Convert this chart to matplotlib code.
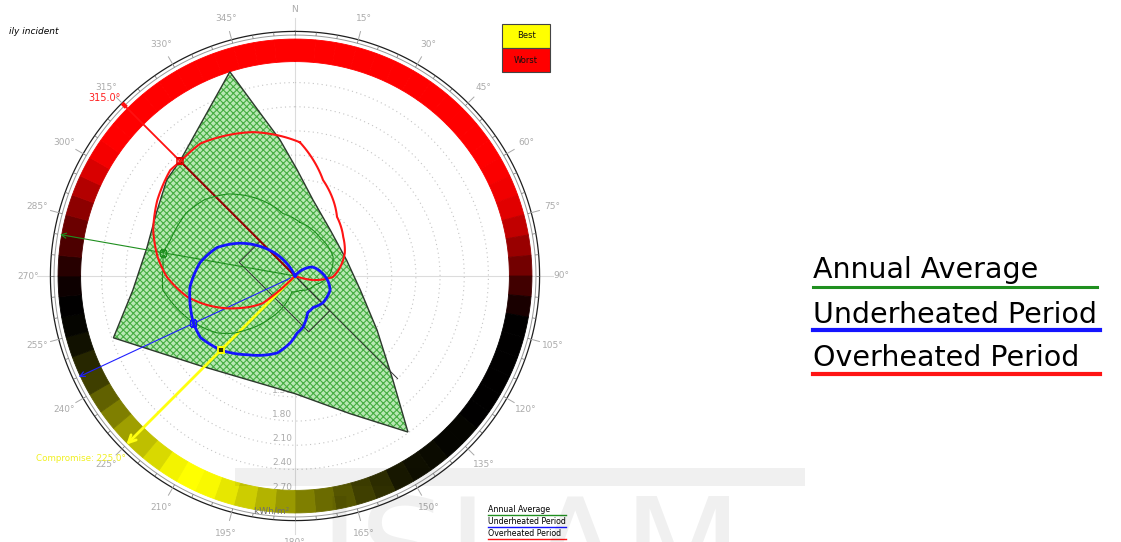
import numpy as np
import matplotlib
matplotlib.use("Agg")
import matplotlib.pyplot as plt
from matplotlib.colors import LinearSegmentedColormap
from matplotlib.patches import Polygon, Rectangle
from matplotlib.lines import Line2D

plt.rcParams['font.family'] = ['DejaVu Sans']
plt.rcParams['hatch.linewidth'] = 0.8

# Orientation (degrees clockwise from north) vs incident radiation (kWh/m2)
annual_deg = [5, 33, 63, 88, 114, 160, 191, 210, 222, 227, 234, 247, 264,
              274, 280, 286, 300, 310, 321, 335, 349, 365]
annual_kwh = [0.67, 0.57, 0.53, 0.43, 0.27, 0.19, 0.20, 0.60, 0.90, 1.04,
              1.20, 1.41, 1.65, 1.64, 1.66, 1.61, 1.56, 1.47, 1.31, 1.05,
              0.79, 0.67]

under_deg = [0, 38, 49, 62, 82, 100, 112, 134, 150, 161, 171, 178, 184, 193,
             211, 225, 237, 245, 252, 264, 278, 290, 301, 312, 322, 335, 360]
under_kwh = [0.0, 0.0, 0.11, 0.24, 0.33, 0.42, 0.47, 0.48, 0.45, 0.48, 0.64,
             0.71, 0.83, 0.98, 1.14, 1.30, 1.40, 1.39, 1.36, 1.31, 1.19, 1.03,
             0.79, 0.53, 0.30, 0.0, 0.0]

over_deg = [2.1, 16.3, 35.4, 51, 65.3, 91.5, 102.5, 110, 225, 227, 229.8,
            239.8, 251.8, 259, 269.6, 277.8, 288, 298.8, 310.3, 315, 324.5,
            343.7, 362.1]
over_kwh = [1.66, 1.24, 0.90, 0.77, 0.68, 0.47, 0.23, 0.0, 0.0, 0.25, 0.52,
            0.79, 1.15, 1.36, 1.59, 1.72, 1.85, 1.95, 2.03, 2.01, 2.02, 1.86,
            1.66]

# Shaded envelope of daily incident radiation
envelope_deg = [-17.7, -12.6, -6.3, 1.1, 13.3, 37.3, 72.9, 102.2, 123.4, 136.7,
                144.1, 158.2, 180.0, 226.6, 251.2, 265.0, 281.0, 294.5, 306.9,
                315.2]
envelope_kwh = [2.66, 2.11, 1.70, 1.32, 0.97, 0.72, 0.67, 0.83, 1.22, 1.77,
                2.39, 1.84, 1.46, 1.62, 2.38, 2.02, 1.87, 1.89, 1.99, 2.02]

# Orientation score ring, 5 degree steps from N (0 = best, 1 = worst)
ring_deg = list(range(0, 360, 5))
ring_score = [1, 1, 1, 1, 1, 1, 1, 1, 1, 1, 1, 1,
              0.99, 0.97, 0.94, 0.875, 0.8, 0.725, 0.625, 0.55, 0.5, 0.5, 0.5, 0.5,
              0.5, 0.5, 0.49, 0.49, 0.48, 0.47, 0.45, 0.41, 0.375, 0.335, 0.29, 0.25,
              0.2, 0.15, 0.1, 0.05, 0.015, 0.0, 0.025, 0.075, 0.125, 0.19, 0.25, 0.31,
              0.375, 0.425, 0.465, 0.49, 0.5, 0.525, 0.575, 0.65, 0.71, 0.775, 0.85, 0.925,
              0.98, 1, 1, 1, 1, 1, 1, 1, 1, 1, 1, 1]

# Best orientations
best_annual_deg, best_annual_kwh = 280.0, 1.66
best_under_deg, best_under_kwh = 245.0, 1.39
best_over_deg, best_over_kwh = 315.0, 2.01
compromise_deg, compromise_kwh = 225.0, 1.30

# Building footprint along the best overheated orientation
building_deg = 315.0
building_half_len = 0.61
building_depth = 0.37
axis_reach = 1.80

radial_ticks = [0.30, 0.60, 0.90, 1.20, 1.50, 1.80, 2.10, 2.40, 2.70]
angle_ticks = list(range(0, 360, 15))
angle_labels = ['N'] + [f'{a}°' for a in angle_ticks[1:]]

RMAX = 3.04
RING_IN, RING_OUT = 2.66, 2.94
SCALE_IN, SCALE_OUT = 2.99, 3.035
LABEL_R = 3.31

W, H = 1121, 542
fig = plt.figure(figsize=(W / 100, H / 100), dpi=100)
ax = fig.add_axes([50 / W, 21 / H, 490 / W, 490 / H], projection='polar')
ax.set_theta_zero_location('N')
ax.set_theta_direction(-1)
ax.set_ylim(0, RMAX)
ax.spines['polar'].set_visible(False)
ax.set_xticks([])
ax.set_yticks(radial_ticks)
ax.set_yticklabels([])
ax.tick_params(axis='y', length=0)
ax.yaxis.grid(True, color='#c4c4c4', linestyle=(0, (1, 3)), linewidth=0.8)
ax.set_facecolor('white')

rad = np.deg2rad
gray_txt = '#ababab'


def smooth(line, steps=12):
    line.get_path()._interpolation_steps = steps
    return line


# cross-hair axes
for a in (0, 90, 180, 270):
    ax.plot([rad(a), rad(a)], [0, 3.2], color='#dcdcdc', lw=0.8, zorder=1,
            clip_on=False)

# radial value labels along the south axis
for v in radial_ticks:
    ax.annotate(f'{v:.2f}', xy=(np.pi, v), xytext=(-2, 1.5),
                textcoords='offset points', ha='right', va='bottom',
                fontsize=6.5, color=gray_txt, zorder=1.8)

# envelope polygon with hatch
env_xy = np.column_stack([rad(envelope_deg), envelope_kwh])
env_fill = Polygon(env_xy, closed=True, facecolor='#b8e8b4', edgecolor='#45ad41',
                   hatch='xxxxx', linewidth=0, zorder=2)
ax.add_patch(env_fill)
env_edge = Polygon(env_xy, closed=True, facecolor='none', edgecolor='#2d3a2d',
                   linewidth=1.0, zorder=2.1)
ax.add_patch(env_edge)

# colour ring
cmap = LinearSegmentedColormap.from_list('score', ['#ffff00', '#000000', '#ff0000'])
cols = cmap(np.array(ring_score))
ax.bar(rad(ring_deg), RING_OUT - RING_IN, width=rad(5), bottom=RING_IN,
       align='edge', color=cols, edgecolor=cols, linewidth=0.6, zorder=2)

# angular scale
th = np.linspace(0, 2 * np.pi, 721)
ax.plot(th, np.full_like(th, SCALE_IN), color='#9a9a9a', lw=0.7, zorder=2,
        clip_on=False)
ax.plot(th, np.full_like(th, SCALE_OUT), color='#1e1e1e', lw=0.9, zorder=2,
        clip_on=False)
ax.vlines(rad(np.arange(0, 360, 5)), SCALE_IN, SCALE_OUT, color='#6a6a6a',
          lw=0.5, zorder=2)
for a, lab in zip(angle_ticks, angle_labels):
    if a % 90:
        ax.plot([rad(a), rad(a)], [SCALE_OUT, 3.14], color='#a8a8a8', lw=0.7,
                clip_on=False)
    ax.text(rad(a), LABEL_R, lab, ha='center', va='center', fontsize=6.5,
            color=gray_txt)

ax.text(np.pi, 2.92, 'kWh/m²  ', ha='right', va='center', fontsize=6.5,
        color='#6e6e6e', zorder=4)

# building footprint and its axis
u = np.array([np.sin(rad(building_deg)), np.cos(rad(building_deg))])
w = np.array([np.sin(rad(building_deg - 90)), np.cos(rad(building_deg - 90))])
corners = [building_half_len * u, -building_half_len * u,
           -building_half_len * u + building_depth * w,
           building_half_len * u + building_depth * w,
           building_half_len * u]
b_th = [np.arctan2(c[0], c[1]) for c in corners]
b_r = [np.hypot(c[0], c[1]) for c in corners]
ax.plot(b_th, b_r, color='#333333', lw=0.7, zorder=3)
ax.plot([rad(building_deg + 180)] * 2, [0, axis_reach], color='#333333', lw=0.7,
        zorder=3)

# direction rays
ax.plot([rad(best_over_deg)] * 2, [0, RING_OUT + 0.03], color='#ff1010', lw=1.3,
        zorder=3)
dark, = ax.plot([rad(best_over_deg)] * 2, [0, RING_OUT], color='#8b0a0a', lw=1.3,
                zorder=3.05)
dark.set_clip_path(env_fill)
ax.plot([rad(best_over_deg)] * 2, [RING_OUT + 0.02, SCALE_OUT], color='#ff1010',
        lw=3.0, zorder=3, solid_capstyle='butt')

for d, c, lw, ms in [(best_annual_deg, '#1f8f1f', 0.8, 9),
                     (best_under_deg, '#2020ff', 0.8, 9),
                     (compromise_deg, '#ffff10', 2.0, 13)]:
    ax.annotate('', xy=(rad(d), RING_OUT + 0.02), xytext=(rad(d), 0),
                arrowprops=dict(arrowstyle='->', color=c, lw=lw, shrinkA=0,
                                shrinkB=0, mutation_scale=ms), zorder=3.2)

# curves
smooth(ax.plot(rad(annual_deg), annual_kwh, color='#1f8f1f', lw=0.8, zorder=3.3)[0])
smooth(ax.plot(rad(over_deg), over_kwh, color='#ff1414', lw=1.5, zorder=3.4)[0])
smooth(ax.plot(rad(under_deg), under_kwh, color='#1414ff', lw=2.0, zorder=3.5)[0])

# best-point markers
ax.plot(rad(best_annual_deg), best_annual_kwh, 's', ms=4.5, mfc='none',
        mec='#1f8f1f', mew=0.9, zorder=5)
ax.plot(rad(best_under_deg), best_under_kwh, 's', ms=4.5, mfc='none',
        mec='#1414ff', mew=0.9, zorder=5)
ax.plot(rad(best_over_deg), best_over_kwh, 's', ms=5, mfc='none',
        mec='#e00000', mew=1.1, zorder=5)
ax.plot(rad(compromise_deg), compromise_kwh, 's', ms=5, mfc='#333300',
        mec='#ffff00', mew=1.3, zorder=5)

# orientation annotations
ax.text(rad(313.0), 3.23, f'{best_over_deg:.1f}°', ha='center', va='center',
        fontsize=7, color='#ff2020', zorder=5)
ax.text(rad(229.5), 3.49, f'Compromise: {compromise_deg:.1f}°', ha='center',
        va='center', fontsize=6.3, color='#f0f020', zorder=5)


def fx(px):
    return px / W


def fy(py):
    return 1 - py / H


# title fragment
fig.text(fx(9), fy(31), 'ily incident', fontsize=6.5, style='italic',
         color='black', va='center', ha='left')

# best / worst key
fig.patches.append(Rectangle((fx(502), fy(48)), fx(48), 24 / H, transform=fig.transFigure,
                             facecolor='#ffff00', edgecolor='#444444', lw=0.8))
fig.patches.append(Rectangle((fx(502), fy(72)), fx(48), 24 / H, transform=fig.transFigure,
                             facecolor='#ff0000', edgecolor='#444444', lw=0.8))
fig.text(fx(526), fy(35), 'Best', fontsize=6, ha='center', va='center', color='#111111')
fig.text(fx(526), fy(60), 'Worst', fontsize=6, ha='center', va='center', color='#111111')

# legends
series_names = ['Annual Average', 'Underheated Period', 'Overheated Period']
series_colors = ['#1f8f1f', '#1414ff', '#ff1414']

big_base = [278, 323, 366]
big_line = [287, 330, 374]
big_end = [1097, 1100, 1100]
big_lw = [2.2, 3.0, 3.0]
for name, c, yb, yl, xe, lw in zip(series_names, series_colors, big_base,
                                   big_line, big_end, big_lw):
    fig.text(fx(813), fy(yb), name, fontsize=20.5, ha='left', va='baseline',
             color='black')
    fig.lines.append(Line2D([fx(813), fx(xe)], [fy(yl), fy(yl)], color=c, lw=lw,
                            transform=fig.transFigure))

small_base = [512, 524, 536]
for name, c, yb in zip(series_names, series_colors, small_base):
    fig.text(fx(488), fy(yb), name, fontsize=5.7, ha='left', va='baseline',
             color='black')
    fig.lines.append(Line2D([fx(488), fx(566)], [fy(yb + 2.5), fy(yb + 2.5)],
                            color=c, lw=1.0, transform=fig.transFigure))

# faint watermark
fig.patches.append(Rectangle((fx(235), fy(486)), fx(570), 18 / H,
                             transform=fig.transFigure, facecolor='black',
                             alpha=0.06, lw=0, zorder=10))
fig.text(fx(318), fy(598), 'ISLAM', fontsize=100, fontweight='normal',
         color='black', alpha=0.06, ha='left', va='baseline', zorder=10)

fig.savefig('out.png', dpi=100, facecolor='white')
